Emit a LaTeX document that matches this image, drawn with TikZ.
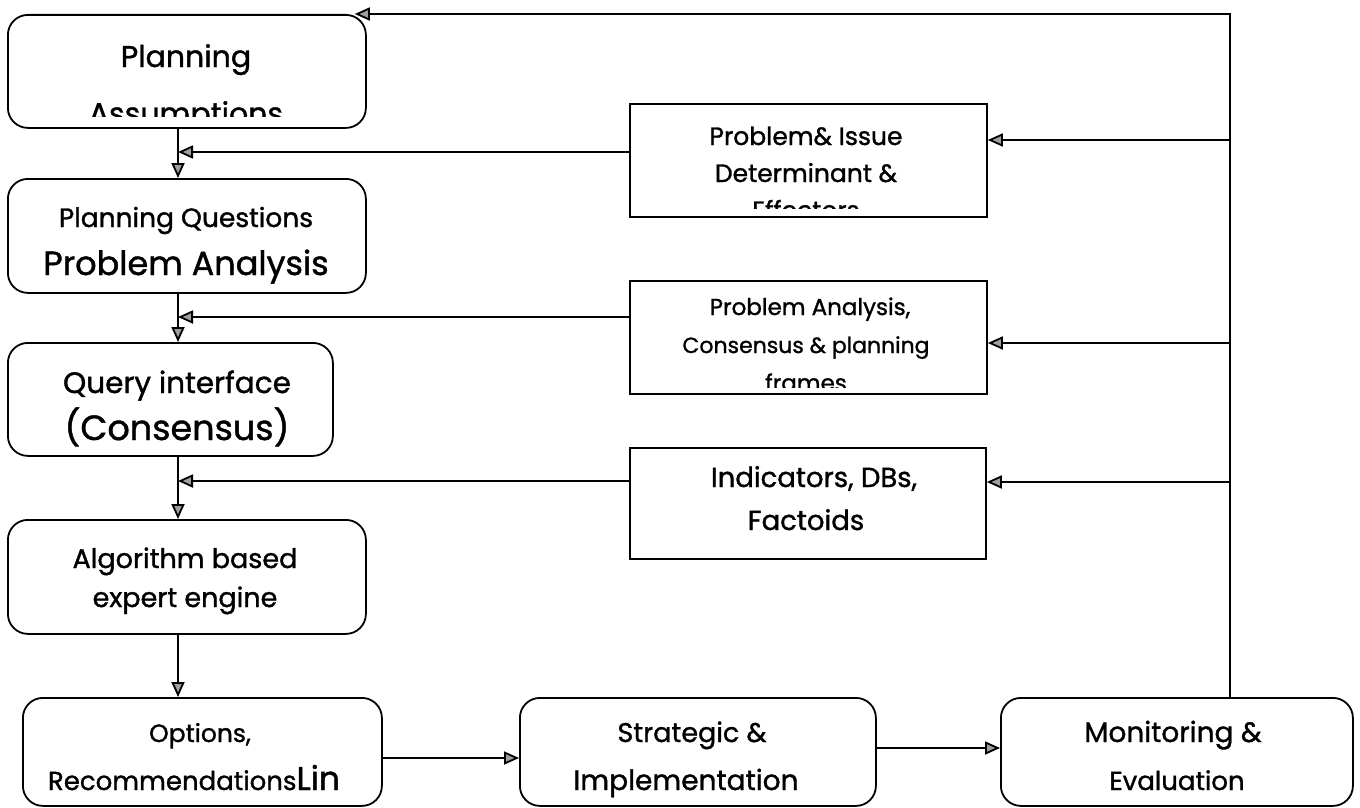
\documentclass[tikz,border=0pt]{standalone}
\usepackage{fontspec}
\setmainfont{Poppins}[FakeBold=1.2]
\usetikzlibrary{arrows.meta,calc}
\begin{document}
\begin{tikzpicture}[x=1pt,y=-1pt,
  box/.style={draw, line width=1.8pt, rounded corners=20pt, inner sep=0pt, anchor=north west},
  sbox/.style={draw, line width=1.8pt, inner sep=0pt, anchor=north west},
  arr/.style={line width=1.8pt, -{Triangle[length=15pt,width=13pt,fill=gray!75]}},
  lbl/.style={anchor=base, inner sep=0pt, font=\fontsize{#1}{#1}\selectfont},
]
% page
\fill[white] (0,0) rectangle (1360,808);
\useasboundingbox (0,0) rectangle (1360,808);

% main chain (rounded boxes)
\node[box, minimum width=358pt, minimum height=113pt] (pa) at (7,14) {};
\node[box, minimum width=358pt, minimum height=114pt] (pq) at (7,178) {};
\node[box, minimum width=325pt, minimum height=113pt] (qi) at (7,342) {};
\node[box, minimum width=358pt, minimum height=114pt] (alg) at (7,519) {};
\node[box, minimum width=359pt, minimum height=108pt] (opt) at (22,697) {};
\node[box, minimum width=356pt, minimum height=108pt] (strat) at (519,697) {};
\node[box, minimum width=352pt, minimum height=108pt] (mon) at (1000,697) {};

% knowledge sources (plain boxes)
\node[sbox, minimum width=357pt, minimum height=113pt] (r1) at (629,103) {};
\node[sbox, minimum width=357pt, minimum height=113pt] (r2) at (629,280) {};
\node[sbox, minimum width=356pt, minimum height=111pt] (r3) at (629,447) {};

% labels
\node[lbl=30] at (186,67) {Planning};
\begin{scope}
  \clip (7,14) rectangle (365,116);
  \node[lbl=30] at (186,124) {Assumptions};
\end{scope}
\node[lbl=26.5] at (186,227) {Planning Questions};
\node[lbl=33.5] at (186,275) {Problem Analysis};
\node[lbl=29.5] at (177,393) {Query interface};
\node[lbl=35] at (177,440) {(Consensus)};
\node[lbl=27] at (185,568) {Algorithm based};
\node[lbl=27] at (185,607) {expert engine};
\node[lbl=25] at (200,742) {Options,};
\node[lbl=26] at (194,790) {Recommendations{\fontsize{33}{33}\selectfont Lin}};
\node[lbl=27] at (692,742) {Strategic \&};
\node[lbl=28] at (686,790) {Implementation};
\node[lbl=28] at (1173,742) {Monitoring \&};
\node[lbl=26] at (1177,790) {Evaluation};

\node[lbl=25] at (806,145) {Problem\& Issue};
\node[lbl=25] at (806,182) {Determinant \&};
\begin{scope}
  \clip (629,103) rectangle (986,208);
  \node[lbl=25] at (806,219) {Effectors};
\end{scope}
\node[lbl=23] at (810,315) {Problem Analysis,};
\node[lbl=22] at (806,353) {Consensus \& planning};
\begin{scope}
  \clip (629,280) rectangle (986,387);
  \node[lbl=23] at (806,391) {frames};
\end{scope}
\node[lbl=27.5] at (814,487) {Indicators, DBs,};
\node[lbl=27.5] at (806,530) {Factoids};

% junction points
\coordinate (fb) at (1230,14);
\coordinate (k1) at (1230,140);
\coordinate (k2) at (1230,343);
\coordinate (k3) at (1230,482);
\coordinate (j1) at (178,152);
\coordinate (j2) at (178,317);
\coordinate (j3) at (178,481);
\coordinate (h1) at (450,758);
\coordinate (h2) at (940,748);

% main flow
\draw[arr] (pa.south -| j1) -- (pq.north -| j1);
\draw[arr] (pq.south -| j2) -- (qi.north -| j2);
\draw[arr] (qi.south -| j3) -- (alg.north -| j3);
\draw[arr] (alg.south -| j3) -- (opt.north -| j3);
\draw[arr] (opt.east |- h1) -- (strat.west |- h1);
\draw[arr] (strat.east |- h2) -- (mon.west |- h2);

% feedback loop
\draw[arr, shorten >=-12pt] (mon.north -| fb) |- (pa.north east);
\draw[arr] (k1) -- (r1.east |- k1);
\draw[arr] (k2) -- (r2.east |- k2);
\draw[arr] (k3) -- (r3.east |- k3);

% knowledge feeds
\draw[arr] (r1.west |- j1) -- (j1);
\draw[arr] (r2.west |- j2) -- (j2);
\draw[arr] (r3.west |- j3) -- (j3);
\end{tikzpicture}
\end{document}
